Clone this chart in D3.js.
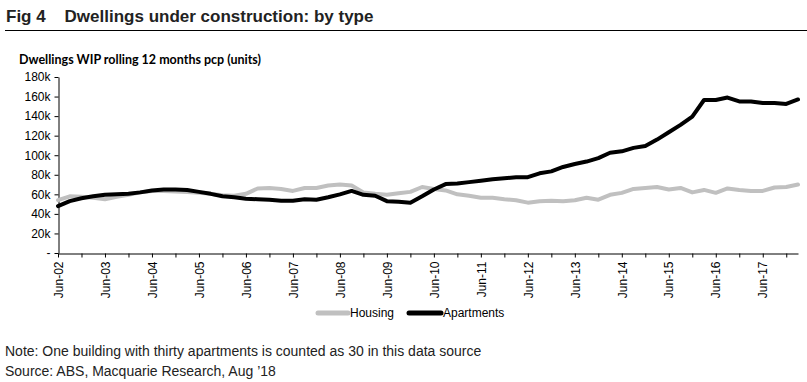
<!DOCTYPE html>
<html>
<head>
<meta charset="utf-8">
<script src="https://cdn.jsdelivr.net/npm/d3@7"></script>
<style>
  html, body { margin: 0; padding: 0; background: #fff; }
  svg { display: block; }
</style>
</head>
<body>
<svg id="chart" width="807" height="382"></svg>
<script>
// ---- Data (quarterly, Jun-02 .. Mar-18), thousands of units ----
const housing = [54, 58, 57.5, 56.5, 55, 57.5, 59.5, 62, 63.5, 63.5, 63, 62.5, 61.5, 60.5, 59, 58.5,
  60.5, 66, 66.5, 65.5, 63.5, 66.5, 66.5, 69, 70, 69, 62, 60.5, 59.5, 61, 62.5, 67.5,
  65.5, 64, 60, 58.5, 56.5, 56.5, 55, 54, 51.5, 53, 53.5, 53, 54, 56.5, 54.5, 59.5,
  61.5, 65.5, 66.5, 67.5, 65, 66.5, 62, 64.5, 61.5, 66, 64.5, 63.5, 63.5, 67, 67.5, 70];
const apartments = [48, 53, 56, 58, 59.5, 60, 60.5, 62, 64, 65, 65, 64.5, 62.5, 60.5, 58, 57,
  55.5, 55, 54.5, 53.5, 53.5, 55, 54.5, 57, 60, 63.5, 59.5, 58.5, 53, 52.5, 51.5, 58,
  65, 70.5, 71, 72.5, 74, 75.5, 76.5, 77.5, 77.5, 81.5, 83.5, 88, 91, 93.5, 97, 102.5,
  104, 107.5, 109.5, 116, 123.5, 131, 139.5, 156.5, 156.5, 159, 155, 155, 153.5, 153.5, 152.5, 157];
const xTickLabels = ["Jun-02","Jun-03","Jun-04","Jun-05","Jun-06","Jun-07","Jun-08","Jun-09",
  "Jun-10","Jun-11","Jun-12","Jun-13","Jun-14","Jun-15","Jun-16","Jun-17"];
const yTicks = [0, 20, 40, 60, 80, 100, 120, 140, 160, 180];
const yTickLabels = ["-", "20k", "40k", "60k", "80k", "100k", "120k", "140k", "160k", "180k"];
const seriesNames = ["Housing", "Apartments"];
const seriesColors = ["#c0c0c0", "#000000"];

(function () {
const svg = d3.select("#chart");
const font = "Arial, 'Liberation Sans', sans-serif";

// Title
svg.append("text").attr("x", 6).attr("y", 22)
  .attr("font-family", font).attr("font-size", 17).attr("font-weight", "bold")
  .attr("fill", "#222").attr("xml:space", "preserve")
  .text("Fig 4    Dwellings under construction: by type");
svg.append("line").attr("x1", 5).attr("x2", 807).attr("y1", 30.5).attr("y2", 30.5)
  .attr("stroke", "#000").attr("stroke-width", 1);

// Subtitle
svg.append("text").attr("x", 19).attr("y", 64)
  .attr("font-family", "Lato, 'Open Sans', sans-serif").attr("font-size", 12.5).attr("font-weight", "bold")
  .attr("fill", "#000")
  .text("Dwellings WIP rolling 12 months pcp (units)");

const mLeft = 58, mRight = 798, mTop = 77, mBottom = 253;
const n = apartments.length;
const x = d3.scaleLinear().domain([0, n - 1]).range([mLeft, mRight]);
const y = d3.scaleLinear().domain([0, 180]).range([mBottom, mTop]);

// Y axis
const yAxis = d3.axisLeft(y).tickValues(yTicks)
  .tickFormat((d, i) => yTickLabels[i]).tickSize(4).tickSizeOuter(0).tickPadding(4);
const gy = svg.append("g").attr("transform", `translate(${mLeft + 0.5},0)`).call(yAxis);
gy.selectAll("text").attr("font-family", font).attr("font-size", 12).attr("fill", "#000");
gy.select(".domain").attr("stroke", "#000");
gy.selectAll(".tick line").attr("stroke", "#000");

// X axis (ticks every half-year; labels every June)
const tickIdx = d3.range(0, n, 2);
const xAxis = d3.axisBottom(x).tickValues(tickIdx)
  .tickFormat(d => d % 4 === 0 ? xTickLabels[d / 4] : "")
  .tickSize(4).tickSizeOuter(0);
const gx = svg.append("g").attr("transform", `translate(0,${mBottom + 0.5})`).call(xAxis);
gx.select(".domain").attr("stroke", "#000");
gx.selectAll(".tick line").attr("stroke", "#000");
gx.selectAll("text")
  .attr("font-family", font).attr("font-size", 12).attr("fill", "#000")
  .attr("transform", "rotate(-90)")
  .attr("text-anchor", "end")
  .attr("x", -8).attr("y", 0).attr("dy", "0.35em");

// Lines
const line = d3.line().x((d, i) => x(i)).y(d => y(d));
[housing, apartments].forEach((s, k) => {
  svg.append("path").datum(s)
    .attr("d", line)
    .attr("fill", "none")
    .attr("stroke", seriesColors[k])
    .attr("stroke-width", 4)
    .attr("stroke-linejoin", "round")
    .attr("stroke-linecap", "round");
});

// Legend
const legendItems = [{x: 318, w: 30}, {x: 409, w: 32}];
legendItems.forEach((it, k) => {
  svg.append("line").attr("x1", it.x).attr("x2", it.x + it.w)
    .attr("y1", 313).attr("y2", 313)
    .attr("stroke", seriesColors[k]).attr("stroke-width", 5).attr("stroke-linecap", "round");
  svg.append("text").attr("x", it.x + it.w + 2).attr("y", 317)
    .attr("font-family", font).attr("font-size", 12).attr("fill", "#000")
    .text(seriesNames[k]);
});

// Notes
svg.append("text").attr("x", 5).attr("y", 356)
  .attr("font-family", font).attr("font-size", 14).attr("fill", "#222")
  .text("Note: One building with thirty apartments is counted as 30 in this data source");
svg.append("text").attr("x", 5).attr("y", 376)
  .attr("font-family", font).attr("font-size", 14).attr("fill", "#222")
  .text("Source: ABS, Macquarie Research, Aug \u201918");
})();
</script>
</body>
</html>
